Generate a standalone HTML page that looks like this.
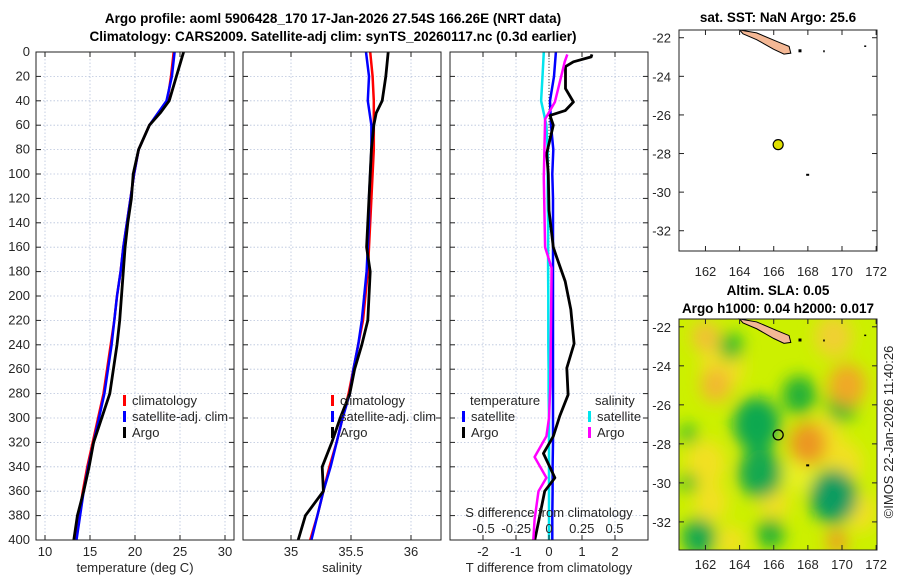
<!DOCTYPE html>
<html><head><meta charset="utf-8"><style>
body{margin:0;background:#fff;}
svg{display:block;font-family:"Liberation Sans","DejaVu Sans",sans-serif;}
.t{font-size:13px;fill:#262626;}
.b{font-weight:bold;fill:#000;font-size:13.5px;}
</style></head><body>
<svg id="c" width="900" height="580" viewBox="0 0 900 580">
<defs>
<filter id="bl" x="-30%" y="-30%" width="160%" height="160%"><feGaussianBlur stdDeviation="8"/></filter>
<clipPath id="mclip"><rect x="679" y="319" width="198" height="231"/></clipPath>
</defs>
<text class="b" x="333" y="23" text-anchor="middle">Argo profile: aoml 5906428_170 17-Jan-2026 27.54S 166.26E (NRT data)</text>
<text class="b" x="333" y="41" text-anchor="middle">Climatology: CARS2009. Satellite-adj clim: synTS_20260117.nc (0.3d earlier)</text>
<g id="g"></g>
</svg>
<script>
// ---- data (depths in m) ----
const depths=[0,20,40,60,80,100,120,140,160,180,200,220,240,260,280,300,320,340,360,380,400];
const tClim=[24.3,24.0,23.6,21.6,20.4,19.9,19.5,19.1,18.7,18.4,18.0,17.7,17.3,16.9,16.5,15.9,15.3,14.7,14.2,13.8,13.4];
const tSat=[24.4,24.1,23.5,21.6,20.4,19.9,19.5,19.1,18.7,18.4,18.0,17.7,17.4,17.0,16.6,16.0,15.4,14.8,14.3,13.9,13.5];
const argoDepths=[0,10,20,40,50,60,80,100,120,140,160,180,200,220,240,260,280,300,320,340,360,380,400];
const tArgo=[25.4,25.0,24.6,23.8,22.8,21.6,20.4,19.8,19.6,19.2,18.9,18.7,18.5,18.3,18.0,17.6,17.2,16.3,15.4,14.9,14.3,13.6,13.2];
const sClim=[35.66,35.68,35.69,35.69,35.69,35.68,35.67,35.66,35.65,35.64,35.62,35.60,35.56,35.52,35.48,35.43,35.38,35.32,35.27,35.22,35.16];
const sSat=[35.625,35.65,35.64,35.67,35.67,35.66,35.65,35.65,35.64,35.63,35.61,35.59,35.56,35.52,35.49,35.43,35.38,35.33,35.27,35.22,35.17];
const sArgo=[35.81,35.80,35.79,35.76,35.71,35.69,35.67,35.66,35.65,35.64,35.63,35.66,35.65,35.64,35.59,35.53,35.49,35.41,35.34,35.26,35.27,35.12,35.06];
const dTArgoDepths=[2,4,8,12,30,41,48,52,60,83,100,130,160,168,188,211,239,259,281,298,315,329,349,360,380,400];
const dTArgo=[1.3,1.28,0.74,0.5,0.5,0.74,0.49,0.03,0.13,-0.07,-0.02,0.0,0.13,0.23,0.49,0.66,0.76,0.54,0.58,0.33,0.13,-0.17,0.18,-0.13,-0.28,-0.43];
const dTSat=[0.21,0.15,0.03,0.06,0.13,0.1,0.12,0.12,0.12,0.12,0.12,0.12,0.12,0.12,0.12,0.12,0.12,0.11,0.11,0.1,0.1];
const dSSat=[-0.04,-0.05,-0.06,-0.02,-0.01,-0.01,-0.01,-0.007,-0.007,-0.007,-0.005,-0.005,-0.005,-0.003,-0.003,0,0,0,0,0,0];
const dSArgoDepths=[2,8,17,41,55,103,160,177,273,300,315,332,349,360,383,400];
const dSArgo=[0.14,0.12,0.10,0.045,-0.03,-0.04,-0.03,0.02,0.01,0.0,-0.02,-0.11,-0.02,-0.08,-0.11,-0.12];
const depthTicks=[0,20,40,60,80,100,120,140,160,180,200,220,240,260,280,300,320,340,360,380,400];
const tTicks=[10,15,20,25,30], sTicks=[35,35.5,36], dtTicks=[-2,-1,0,1,2], dsTicks=[-0.5,-0.25,0,0.25,0.5];
const latTicks=[-22,-24,-26,-28,-30,-32], lonTicks=[162,164,166,168,170,172];
// SLA blobs: lon, lat, radius(deg), color
const blobLon=[163,162,170,169,162.3,167.5,171,169.5,166,163.5,165,165.2,167.5,170,163.5,169.5,161.6,165.8,161,161,168,170.3,162.6,162,169.7];
const blobLat=[-24,-29,-29,-27.5,-31,-29.5,-31.5,-22.5,-31,-33,-27,-29.5,-25.5,-26,-23,-30.7,-32.8,-32.6,-27.5,-30,-28,-25,-25,-22.5,-33];
const blobR=[1.3,1.2,1.2,1.0,1.0,1.0,1.0,1.1,0.9,0.8,1.4,1.3,1.0,0.9,0.7,1.4,1.0,0.8,0.5,0.5,1.1,1.1,0.9,0.8,0.6];
const blobC=['#f2e020','#f2e020','#f2e020','#f2e020','#f2e020','#e8f020','#f2e020','#f0d030','#f2e020','#f2e020','#10a850','#12a850','#20b038','#22b830','#22b830','#0e9c60','#14a850','#22b038','#22b830','#22b830','#ec9620','#f0a828','#f2b830','#f2c038','#ec9a28'];

const NS='http://www.w3.org/2000/svg', G=document.getElementById('g');
function el(t,a,p){const e=document.createElementNS(NS,t);for(const k in a)e.setAttribute(k,a[k]);(p||G).appendChild(e);return e;}
const Y0=52,Y1=540;
const yD=d=>Y0+(d-0)/400*(Y1-Y0);
function panel(x0,x1,xmin,xmax,name){
  const sx=v=>x0+(v-xmin)/(xmax-xmin)*(x1-x0);
  const g=el('g',{});
  
  
  for(const d of depthTicks){
    const l=el('line',{x1:x0,x2:x1,y1:yD(d),y2:yD(d),stroke:'#b8c4dc','stroke-width':0.8,'stroke-dasharray':'1.5,2'},g);
    
    
    el('line',{x1:x0,x2:x0+5,y1:yD(d),y2:yD(d),stroke:'#222'},g);
    el('line',{x1:x1-5,x2:x1,y1:yD(d),y2:yD(d),stroke:'#222'},g);
  }
  return {g,sx};
}
function vgrid(p,ticks){for(const v of ticks){const l=el('line',{x1:p.sx(v),x2:p.sx(v),y1:Y0,y2:Y1,stroke:'#b8c4dc','stroke-width':0.8,'stroke-dasharray':'1.5,2'},p.g);
 
 }}
function xlabels(p,ticks,y){for(const v of ticks){const t=el('text',{x:p.sx(v),y:y,'text-anchor':'middle',class:'t'},p.g);t.textContent=v;
 
 
 el('line',{x1:p.sx(v),x2:p.sx(v),y1:Y1,y2:Y1-5,stroke:'#222'},p.g);el('line',{x1:p.sx(v),x2:p.sx(v),y1:Y0,y2:Y0+5,stroke:'#222'},p.g);}}
function line(p,xs,ds,col,w,name){
  const pts=xs.map((v,i)=>p.sx(v).toFixed(1)+','+yD(ds[i]).toFixed(1)).join(' ');
  const l=el('polyline',{points:pts,fill:'none',stroke:col,'stroke-width':w,'stroke-linejoin':'round'},p.g);
  
  
}
function box(x0,x1,y0,y1,par){el('rect',{x:x0,y:y0,width:x1-x0,height:y1-y0,fill:'none',stroke:'#222','stroke-width':1},par);}
function txt(x,y,s,name,anchor,par,cls){const t=el('text',{x:x,y:y,'text-anchor':anchor||'start',class:cls||'t'},par);t.textContent=s;
 
 return t;}
function legItem(x,y,col,label,par,name){el('rect',{x:x,y:y-10,width:3,height:11,fill:col},par);txt(x+9,y,label,name,'start',par);}

// Panel 1 temperature
const p1=panel(36,234,9.0,31.0,'temperature-panel');
vgrid(p1,tTicks);
for(const d of depthTicks){txt(30,yD(d)+4,String(d),'y-tick-label','end',p1.g);}
line(p1,tClim,depths,'#ff0000',2.5,'temp-climatology-line');
line(p1,tSat,depths,'#0000ff',2.5,'temp-satellite-line');
line(p1,tArgo,argoDepths,'#000',2.8,'temp-argo-line');
box(36,234,Y0,Y1,p1.g);
xlabels(p1,tTicks,556);
txt(135,572,'temperature (deg C)','x-axis-title-temperature','middle',p1.g);
legItem(123,405,'#ff0000','climatology',p1.g,'legend-climatology');
legItem(123,421,'#0000ff','satellite-adj. clim',p1.g,'legend-satellite-adj');
legItem(123,437,'#000','Argo',p1.g,'legend-argo');

// Panel 2 salinity
const p2=panel(243,441,34.6,36.25,'salinity-panel');
vgrid(p2,sTicks);
line(p2,sClim,depths,'#ff0000',2.5,'sal-climatology-line');
line(p2,sSat,depths,'#0000ff',2.5,'sal-satellite-line');
line(p2,sArgo,argoDepths,'#000',2.8,'sal-argo-line');
box(243,441,Y0,Y1,p2.g);
xlabels(p2,sTicks,556);
txt(342,572,'salinity','x-axis-title-salinity','middle',p2.g);
legItem(331,405,'#ff0000','climatology',p2.g,'legend-climatology-2');
legItem(331,421,'#0000ff','satellite-adj. clim',p2.g,'legend-satellite-adj-2');
legItem(331,437,'#000','Argo',p2.g,'legend-argo-2');

// Panel 3 differences
const p3=panel(450,648,-3.0,3.0,'difference-panel');
const sS={g:p3.g,sx:v=>549+v*131};
vgrid(p3,dtTicks);
el('line',{x1:p3.sx(0),x2:p3.sx(0),y1:Y0,y2:Y1,stroke:'#444','stroke-dasharray':'1,2'},p3.g);
line(sS,dSSat,depths,'#00e5ee',2.5,'sal-diff-satellite-line');
line(p3,dTSat,depths,'#0000ff',2.5,'temp-diff-satellite-line');
line(p3,dTArgo,dTArgoDepths,'#000',2.8,'temp-diff-argo-line');
line(sS,dSArgo,dSArgoDepths,'#ff00ff',2.5,'sal-diff-argo-line');
box(450,648,Y0,Y1,p3.g);
xlabels(p3,dtTicks,556);
for(const v of dsTicks){txt(sS.sx(v),533,String(v),'s-tick-label','middle',p3.g);}
txt(549,517,'S difference from climatology','s-axis-title','middle',p3.g);
txt(549,572,'T difference from climatology','t-axis-title','middle',p3.g);
txt(470,405,'temperature','legend-temperature-header','start',p3.g);
legItem(462,421,'#0000ff','satellite',p3.g,'legend-temp-satellite');
legItem(462,437,'#000','Argo',p3.g,'legend-temp-argo');
txt(595,405,'salinity','legend-salinity-header','start',p3.g);
legItem(588,421,'#00e5ee','satellite',p3.g,'legend-sal-satellite');
legItem(588,437,'#ff00ff','Argo',p3.g,'legend-sal-argo');

// Maps
const LON0=160.45,LON1=172.05;
const mx=lon=>679+(lon-LON0)/(LON1-LON0)*198;
function map(y0,y1,latTop,latBot,name){
  const my=lat=>y0+(latTop-lat)/(latTop-latBot)*(y1-y0);
  const g=el('g',{});
  
  
  return {g,my,y0,y1};
}
const m1=map(30,251,-21.6,-33.05,'sst-map');
el('rect',{x:679,y:30,width:198,height:221,fill:'#fff'},m1.g);
function island(m){
  const pts=[[164.0,-21.6],[165.0,-21.75],[166.2,-22.2],[166.9,-22.45],[167.0,-22.8],[166.6,-22.85],[166.0,-22.6],[165.0,-22.1],[164.2,-21.8]];
  const p=el('polygon',{points:pts.map(q=>mx(q[0])+','+m.my(q[1])).join(' '),fill:'#f4b895',stroke:'#000','stroke-width':1},m.g);
  
  
  el('rect',{x:mx(167.45),y:m.my(-22.6),width:3,height:3,fill:'#000'},m.g);
  el('rect',{x:mx(168.9),y:m.my(-22.65),width:1.5,height:2,fill:'#000'},m.g);
  el('rect',{x:mx(171.3),y:m.my(-22.4),width:2,height:1.5,fill:'#000'},m.g);
  el('rect',{x:mx(167.9),y:m.my(-29.05),width:3,height:2,fill:'#000'},m.g);
}
island(m1);
const dot1=el('circle',{cx:mx(166.26),cy:m1.my(-27.54),r:5,fill:'#e0e000',stroke:'#000','stroke-width':1.2},m1.g);


box(679,877,30,251,m1.g);
for(const la of latTicks){txt(671,m1.my(la)+5,String(la),'lat-tick-label','end',m1.g);el('line',{x1:679,x2:684,y1:m1.my(la),y2:m1.my(la),stroke:'#222'},m1.g);el('line',{x1:872,x2:877,y1:m1.my(la),y2:m1.my(la),stroke:'#222'},m1.g);}
for(const lo of lonTicks){txt(mx(lo),276,String(lo),'lon-tick-label','middle',m1.g);el('line',{x1:mx(lo),x2:mx(lo),y1:251,y2:246,stroke:'#222'},m1.g);el('line',{x1:mx(lo),x2:mx(lo),y1:30,y2:35,stroke:'#222'},m1.g);}
txt(778,22,'sat. SST: NaN Argo: 25.6','sst-map-title','middle',m1.g,'b');

const m2=map(319,550,-21.6,-33.44,'sla-map');
const fg=el('g',{'clip-path':'url(#mclip)'},m2.g);
el('rect',{x:679,y:319,width:198,height:231,fill:'#ccf000'},fg);
const bg=el('g',{filter:'url(#bl)'},fg);
for(let i=0;i<blobLon.length;i++){
  const c=el('ellipse',{cx:mx(blobLon[i]),cy:m2.my(blobLat[i]),rx:blobR[i]*17,ry:blobR[i]*19.5,fill:blobC[i]},bg);
  
  
}
island(m2);
const dot2=el('circle',{cx:mx(166.26),cy:m2.my(-27.54),r:5,fill:'none',stroke:'#000','stroke-width':1.3},m2.g);


box(679,877,319,550,m2.g);
for(const la of latTicks){txt(671,m2.my(la)+5,String(la),'lat-tick-label','end',m2.g);el('line',{x1:679,x2:684,y1:m2.my(la),y2:m2.my(la),stroke:'#222'},m2.g);el('line',{x1:872,x2:877,y1:m2.my(la),y2:m2.my(la),stroke:'#222'},m2.g);}
for(const lo of lonTicks){txt(mx(lo),569,String(lo),'lon-tick-label','middle',m2.g);el('line',{x1:mx(lo),x2:mx(lo),y1:550,y2:545,stroke:'#222'},m2.g);el('line',{x1:mx(lo),x2:mx(lo),y1:319,y2:324,stroke:'#222'},m2.g);}
txt(778,295,'Altim. SLA: 0.05','sla-map-title','middle',m2.g,'b');
txt(778,313,'Argo h1000: 0.04 h2000: 0.017','sla-map-subtitle','middle',m2.g,'b');
const cp=txt(0,0,'©IMOS 22-Jan-2026 11:40:26','copyright-text','middle',G);
cp.setAttribute('transform','translate(893,432) rotate(-90)');
</script>
</body></html>
